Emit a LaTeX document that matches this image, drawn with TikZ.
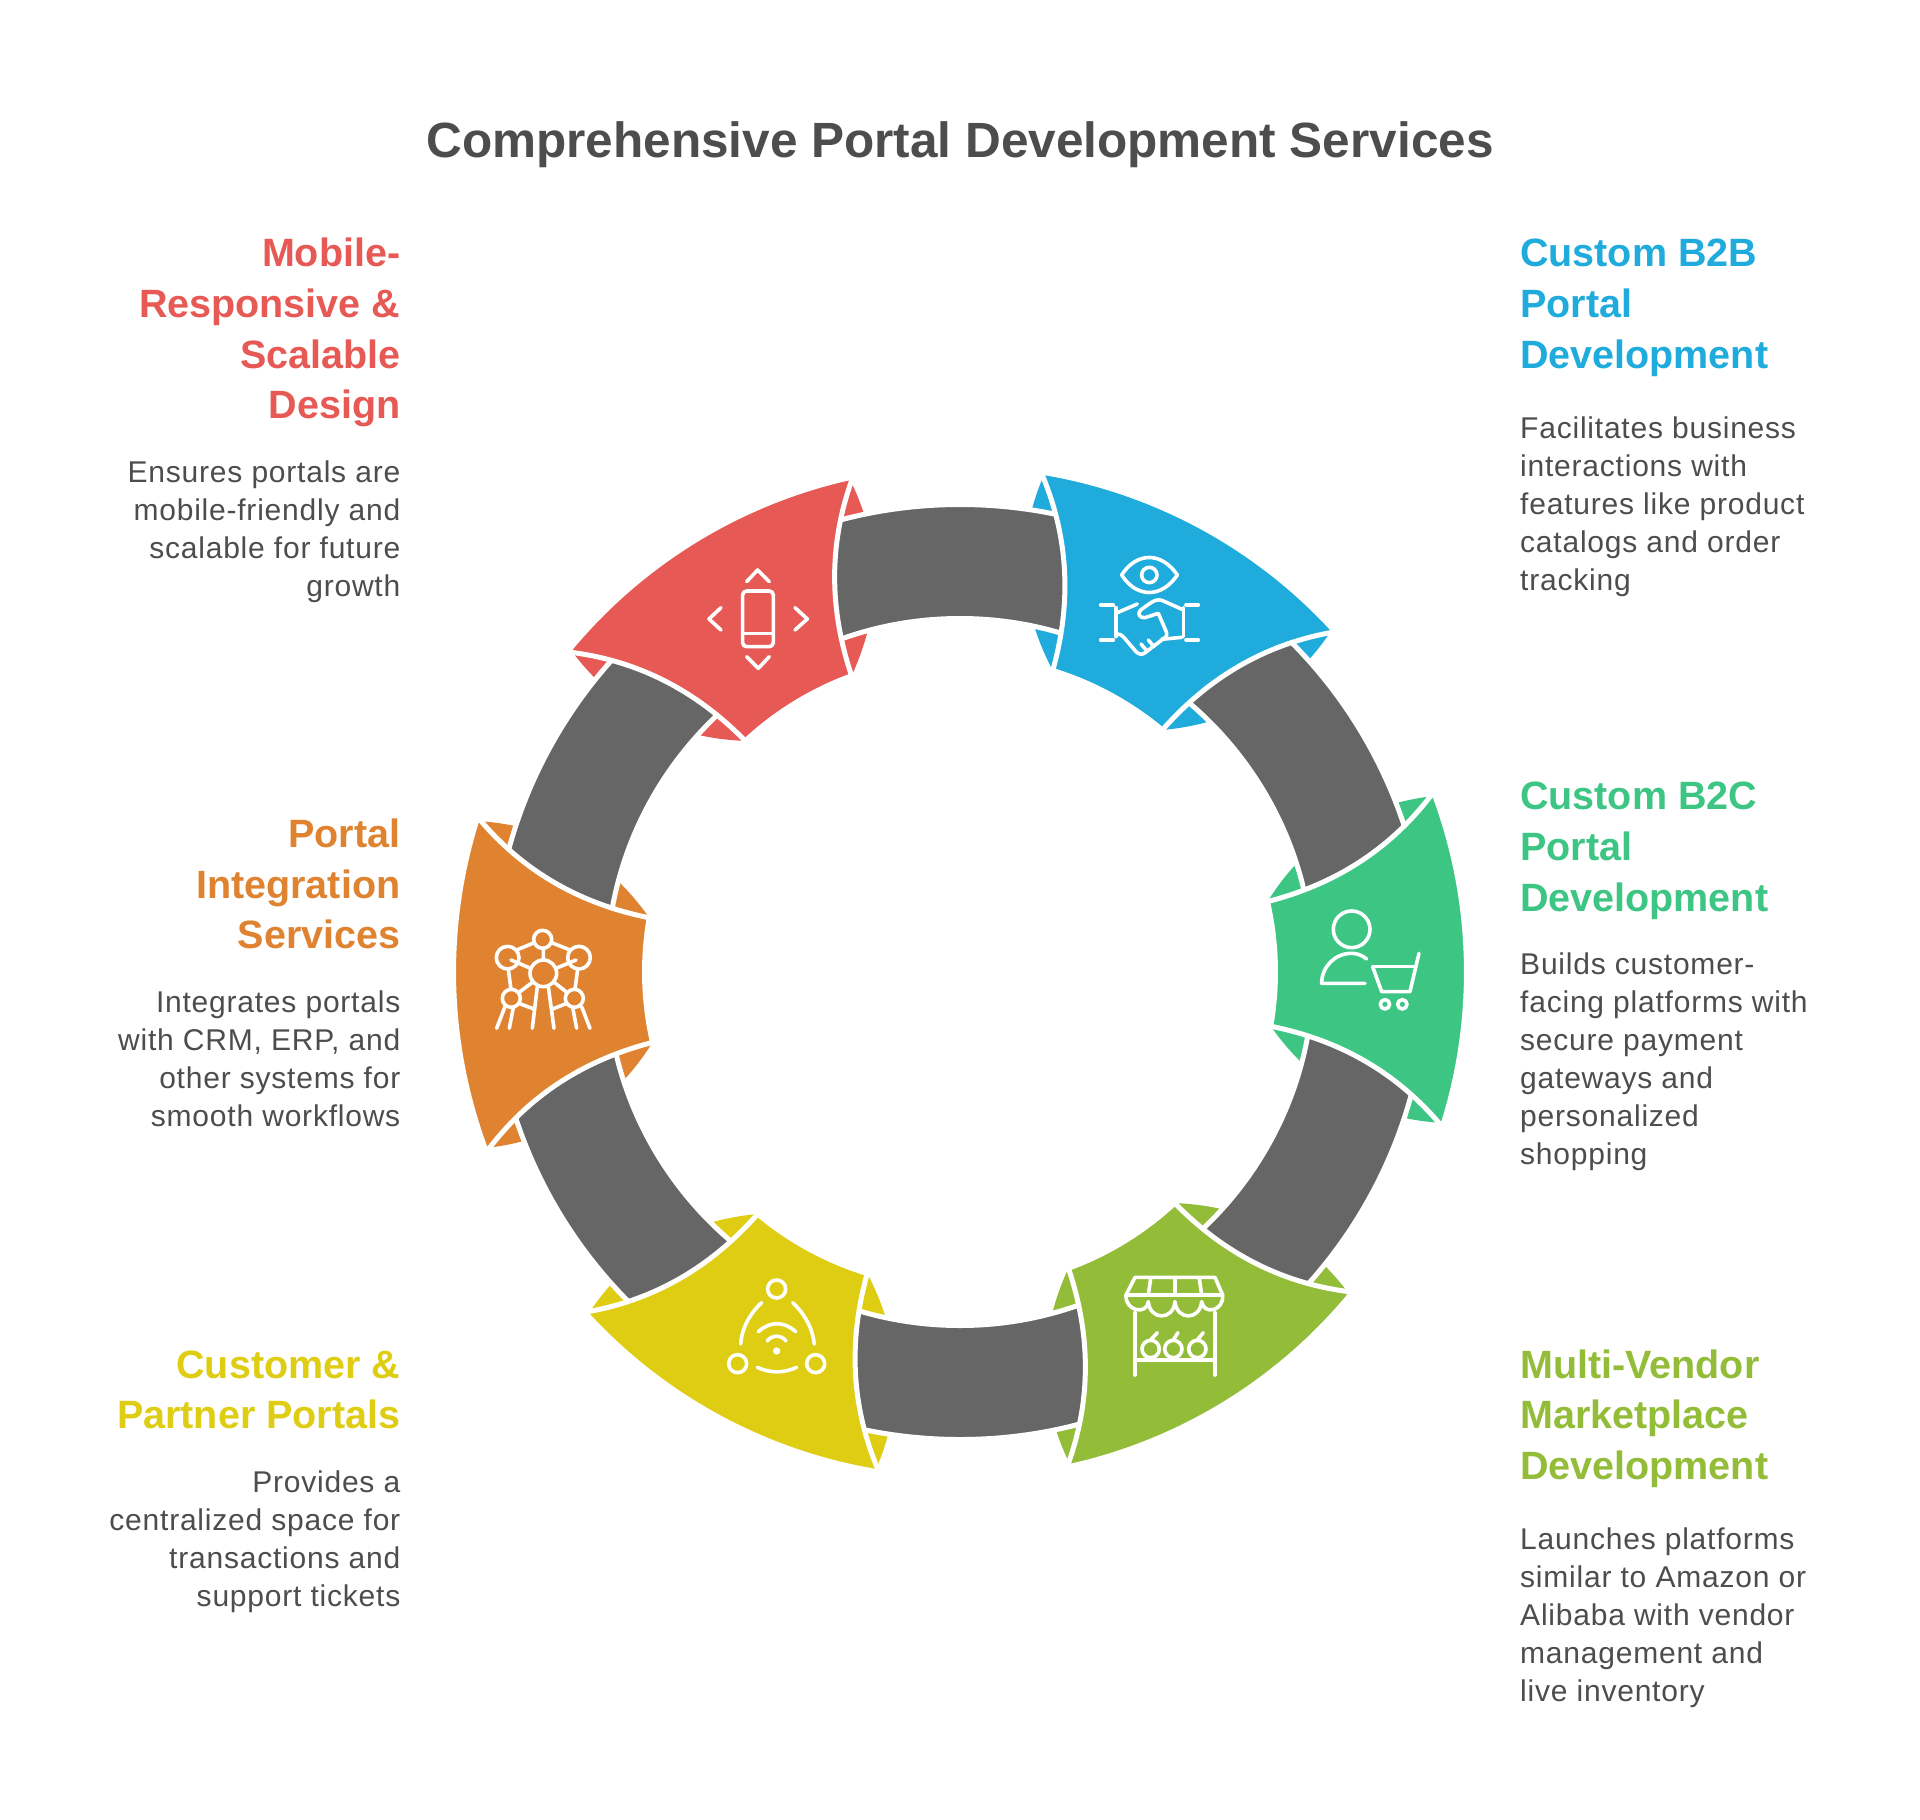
\documentclass[tikz,border=0pt]{standalone}
\usepackage{fontspec}
\setmainfont{Liberation Sans}
\newfontfamily\bodyfont[LetterSpace=2.6]{Liberation Sans}
\definecolor{cblue}{HTML}{1FABDB}
\definecolor{cgreen}{HTML}{3CC583}
\definecolor{colive}{HTML}{93BD38}
\definecolor{cyellow}{HTML}{DFCD13}
\definecolor{corange}{HTML}{DF8330}
\definecolor{cred}{HTML}{E65955}
\definecolor{cband}{HTML}{666666}
\definecolor{ctext}{HTML}{4D4D4D}
\tikzset{
  titletext/.style={font=\fontsize{49.5}{60}\selectfont\bfseries,text=ctext,inner sep=0pt,anchor=base},
  headtext/.style={font=\fontsize{39.5}{50.7}\selectfont\bfseries,inner sep=0pt},
  bodytext/.style={font=\bodyfont\fontsize{30}{38}\selectfont,text=ctext,inner sep=0pt},
  iconline/.style={draw=white,line width=3.6pt,line cap=round,line join=round},
  bandring/.style={fill=cband,draw=white,line width=5pt,even odd rule},
  tilefill/.style={draw=white,line width=5pt,line join=miter,miter limit=2}
}
\begin{document}
\begin{tikzpicture}[x=1pt,y=1pt]
\useasboundingbox[fill=white] (0,0) rectangle (1920,-1820);
% lens backings
\foreach \ang/\col in {28.5/cblue,88.5/cgreen,148.5/colive,208.5/cyellow,268.5/corange,328.5/cred}{
  \begin{scope}[shift={(960,-972)},rotate=-\ang]
    \fill[\col] (108.9:504.5) arc[start angle=108.9,end angle=71.1,radius=504.5]
      .. controls (157.4,407.1) and (123.7,350) .. (78.6:315.5)
      arc[start angle=78.6,end angle=101.4,radius=315.5]
      .. controls (-123.7,350) and (-157.4,407.1) .. (108.9:504.5) -- cycle;
  \end{scope}
}
% grey ring
\path[bandring] (960,-972) circle[radius=467.5] (960,-972) circle[radius=353.5];
% tiles
\foreach \ang/\col in {28.5/cblue,88.5/cgreen,148.5/colive,208.5/cyellow,268.5/corange,328.5/cred}{
  \begin{scope}[shift={(960,-972)},rotate=-\ang]
    \path[tilefill,fill=\col] (109.3:506.5) arc[start angle=109.3,end angle=70.7,radius=506.5]
      .. controls (111.5,434.2) and (77.8,377.1) .. (78.6:315.5)
      arc[start angle=78.6,end angle=101.4,radius=315.5]
      .. controls (-77.8,377.1) and (-111.5,434.2) .. (109.3:506.5) -- cycle;
  \end{scope}
}
% blue icon
\begin{scope}[shift={(980,-440)},x=.3333pt,y=-.3333pt]
  \path[iconline] (425,405) .. controls (470,335) and (545,335) .. (592,405) .. controls (545,475) and (470,475) .. cycle;
  \path[iconline] (508,405) circle[radius=23];
  \path[iconline] (362,495) -- (400,495) (408,503) -- (408,590) (400,600) -- (362,600);
  \path[iconline] (655,495) -- (618,495) (610,503) -- (610,590) (618,600) -- (655,600);
  \path[iconline] (412,518) -- (472,492);
  \path[iconline] (606,508) -- (548,482) .. controls (535,477) and (525,480) .. (510,490) -- (482,510) .. controls (470,522) and (480,535) .. (495,533) -- (535,520) -- (560,578) .. controls (562,590) and (555,595) .. (545,598) -- (606,592);
  \path[iconline] (412,582) .. controls (425,583) and (430,590) .. (440,602) -- (468,635) .. controls (478,645) and (488,645) .. (497,637) -- (548,598);
  \path[iconline] (483,612) -- (500,632) (505,600) -- (522,620);
\end{scope}
% green icon
\begin{scope}[shift={(1220,-780)},x=.3333pt,y=-.3333pt]
  \path[iconline] (395,448) circle[radius=55];
  \path[iconline] (440,537) .. controls (425,525) and (410,520) .. (395,520) .. controls (345,520) and (305,560) .. (305,610) -- (435,610);
  \path[iconline] (458,560) -- (583,560);
  \path[iconline] (597,520) -- (570,635) -- (485,635) -- (458,560);
  \path[iconline] (495,673) circle[radius=14];
  \path[iconline] (547,673) circle[radius=14];
\end{scope}
% olive icon
\begin{scope}[shift={(1040,-1180)},x=.3333pt,y=-.3333pt]
  \path[iconline] (258,345) -- (285,292) -- (525,292) -- (548,345) -- cycle;
  \path[iconline] (325,345) -- (332,295) (405,345) -- (405,295) (485,345) -- (478,295);
  \path[iconline] (258,345) .. controls (255,395) and (322,405) .. (325,365);
  \path[iconline] (325,365) .. controls (330,422) and (400,422) .. (405,365);
  \path[iconline] (405,365) .. controls (410,422) and (480,422) .. (485,365);
  \path[iconline] (485,365) .. controls (490,405) and (552,395) .. (548,345);
  \path[iconline] (285,398) -- (285,585) (525,398) -- (525,585) (285,540) -- (525,540);
  \path[iconline] (332,507) circle[radius=26];
  \path[iconline] (400,507) circle[radius=26];
  \path[iconline] (472,507) circle[radius=26];
  \path[iconline] (330,482) -- (352,458) (398,482) -- (414,458) (470,482) -- (490,458);
\end{scope}
% yellow icon
\begin{scope}[shift={(570,-1200)},x=.3333pt,y=-.3333pt]
  \path[iconline] (620,267) circle[radius=27];
  \path[iconline] (503,491) circle[radius=27];
  \path[iconline] (737,491) circle[radius=27];
  \path[iconline] (512,432) .. controls (515,385) and (540,340) .. (575,308);
  \path[iconline] (668,308) .. controls (703,340) and (728,385) .. (733,432);
  \path[iconline] (562,502) .. controls (600,520) and (642,520) .. (680,502);
  \path[iconline] (565,395) .. controls (600,363) and (642,363) .. (677,395);
  \path[iconline] (592,423) .. controls (605,404) and (635,404) .. (648,423);
  \fill[white] (620,453) circle[radius=11];
\end{scope}
% orange icon
\begin{scope}[shift={(440,-810)},x=.3333pt,y=-.3333pt]
  \path[iconline] (308,388) circle[radius=27];
  \path[iconline] (203,443) circle[radius=34];
  \path[iconline] (417,443) circle[radius=34];
  \path[iconline] (310,490) circle[radius=40];
  \path[iconline] (214,565) circle[radius=27];
  \path[iconline] (403,565) circle[radius=27];
  \path[iconline] (230,420) -- (283,398) (335,398) -- (390,420) (310,415) -- (310,450);
  \path[iconline] (213,450) -- (272,475) (408,450) -- (348,475);
  \path[iconline] (205,478) -- (213,538) (413,478) -- (405,538);
  \path[iconline] (240,545) -- (280,515) (378,545) -- (340,515);
  \path[iconline] (236,580) -- (282,597) (381,580) -- (338,597);
  \path[iconline] (195,590) -- (170,655) (220,592) -- (208,655);
  \path[iconline] (292,530) -- (277,655) (325,530) -- (342,655);
  \path[iconline] (398,592) -- (410,655) (425,590) -- (450,655);
\end{scope}
% red icon
\begin{scope}[shift={(560,-460)},x=.3333pt,y=-.3333pt]
  \path[iconline,rounded corners=4pt] (548,393) rectangle (640,560);
  \path[iconline] (548,520) -- (640,520);
  \path[iconline] (560,365) -- (593,330) -- (628,365);
  \path[iconline] (560,590) -- (595,625) -- (628,590);
  \path[iconline] (483,443) -- (447,477) -- (483,510);
  \path[iconline] (705,443) -- (742,477) -- (705,510);
\end{scope}
% title
\node[titletext] (title) at (960,-157) {Comprehensive Portal Development Services};
% right texts
\node[headtext,text=cblue,anchor=base west] (h1) at (1520,-266.7) {\begin{tabular}[t]{@{}l@{}}Custom B2B\\Portal\\Development\end{tabular}};
\node[bodytext,anchor=base west] (b1) at (1520,-438.3) {\begin{tabular}[t]{@{}l@{}}Facilitates business\\interactions with\\features like product\\catalogs and order\\tracking\end{tabular}};
\node[headtext,text=cgreen,anchor=base west] (h2) at (1520,-809.6) {\begin{tabular}[t]{@{}l@{}}Custom B2C\\Portal\\Development\end{tabular}};
\node[bodytext,anchor=base west] (b2) at (1520,-974.7) {\begin{tabular}[t]{@{}l@{}}Builds customer-\\facing platforms with\\secure payment\\gateways and\\personalized\\shopping\end{tabular}};
\node[headtext,text=colive,anchor=base west] (h3) at (1520,-1378) {\begin{tabular}[t]{@{}l@{}}Multi-Vendor\\Marketplace\\Development\end{tabular}};
\node[bodytext,anchor=base west] (b3) at (1520,-1549) {\begin{tabular}[t]{@{}l@{}}Launches platforms\\similar to Amazon or\\Alibaba with vendor\\management and\\live inventory\end{tabular}};
% left texts
\node[headtext,text=cred,anchor=base east] (h6) at (400.5,-266.7) {\begin{tabular}[t]{@{}r@{}}Mobile-\\Responsive \&\\Scalable\\Design\end{tabular}};
\node[bodytext,anchor=base east] (b6) at (400.5,-482.5) {\begin{tabular}[t]{@{}r@{}}Ensures portals are\\mobile-friendly and\\scalable for future\\growth\end{tabular}};
\node[headtext,text=corange,anchor=base east] (h5) at (400.5,-847.4) {\begin{tabular}[t]{@{}r@{}}Portal\\Integration\\Services\end{tabular}};
\node[bodytext,anchor=base east] (b5) at (400.5,-1012.7) {\begin{tabular}[t]{@{}r@{}}Integrates portals\\with CRM, ERP, and\\other systems for\\smooth workflows\end{tabular}};
\node[headtext,text=cyellow,anchor=base east] (h4) at (400.5,-1378) {\begin{tabular}[t]{@{}r@{}}Customer \&\\Partner Portals\end{tabular}};
\node[bodytext,anchor=base east] (b4) at (400.5,-1492.7) {\begin{tabular}[t]{@{}r@{}}Provides a\\centralized space for\\transactions and\\support tickets\end{tabular}};
\end{tikzpicture}
\end{document}
